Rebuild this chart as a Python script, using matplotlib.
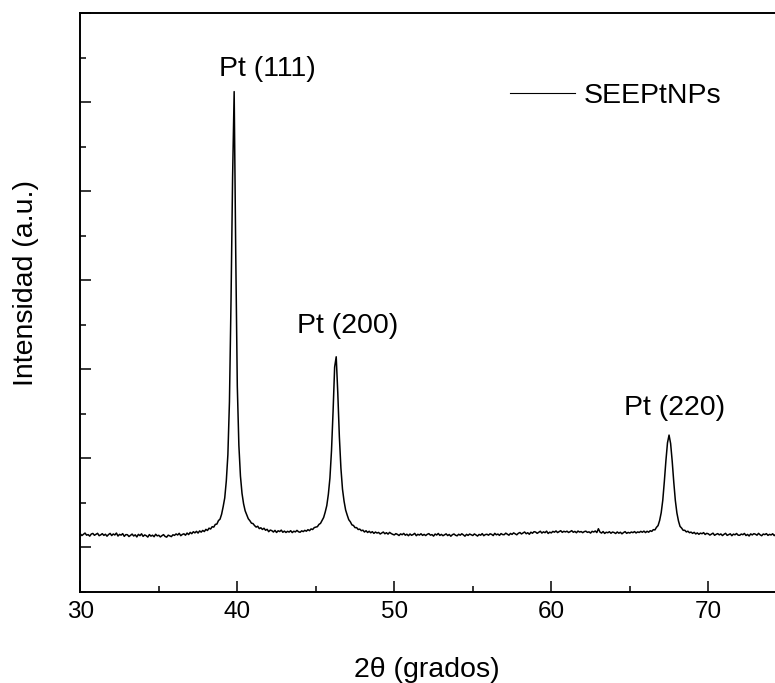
import numpy as np
import matplotlib
matplotlib.use("Agg")
import matplotlib.pyplot as plt
from matplotlib.ticker import MultipleLocator

plt.rcParams["font.family"] = ["Liberation Sans", "DejaVu Sans"]

# XRD scan, 2theta from 30.0 deg in 0.1 deg steps (counts, arbitrary units)
two_theta_start = 30.0
two_theta_step = 0.1
intensity = [
    301, 262, 290, 318, 271, 283, 249, 296, 309, 268,   # 30
    290, 312, 259, 277, 304, 266, 291, 248, 285, 310,   # 31
    262, 297, 275, 318, 251, 288, 272, 305, 244, 283,   # 32
    281, 240, 266, 295, 252, 278, 231, 289, 260, 301,   # 33
    243, 276, 259, 228, 284, 249, 270, 236, 291, 255,   # 34
    268, 231, 259, 283, 242, 226, 271, 255, 238, 279,   # 35
    266, 298, 275, 312, 259, 287, 301, 270, 318, 284,   # 36
    333, 304, 348, 322, 357, 318, 366, 339, 377, 352,   # 37
    401, 376, 428, 409, 461, 452, 513, 520, 598, 631,   # 38
    741, 912, 1108, 1490, 2080, 3270, 5540, 8310, 10240, 6620,  # 39
    3620, 2290, 1600, 1210, 975, 818, 731, 640, 596, 541,  # 40
    531, 486, 452, 471, 418, 437, 399, 426, 381, 402,   # 41
    349, 385, 372, 341, 378, 331, 369, 352, 384, 336,   # 42
    362, 331, 357, 340, 371, 329, 359, 344, 378, 347,   # 43
    336, 368, 351, 379, 360, 394, 372, 411, 398, 440,   # 44
    452, 461, 512, 536, 604, 668, 790, 936, 1190, 1555,  # 45
    2170, 3050, 4050, 4280, 3470, 2490, 1775, 1305, 1034, 836,  # 46
    722, 618, 571, 503, 488, 439, 441, 398, 407, 371,   # 47
    383, 342, 370, 331, 358, 324, 349, 311, 341, 318,   # 48
    332, 297, 318, 341, 302, 326, 294, 333, 308, 289,   # 49
    276, 305, 288, 263, 299, 281, 310, 270, 292, 258,   # 50
    297, 268, 285, 311, 259, 290, 273, 302, 266, 288,   # 51
    262, 290, 305, 271, 283, 250, 296, 274, 309, 265,   # 52
    288, 259, 278, 300, 262, 286, 247, 281, 297, 269,   # 53
    256, 291, 270, 302, 277, 248, 289, 265, 296, 280,   # 54
    263, 298, 276, 251, 287, 270, 305, 259, 284, 291,   # 55
    270, 301, 288, 262, 311, 279, 295, 266, 306, 284,   # 56
    281, 316, 294, 270, 309, 288, 322, 300, 279, 313,   # 57
    330, 298, 319, 342, 303, 325, 291, 337, 314, 349,   # 58
    341, 312, 336, 359, 318, 345, 327, 361, 309, 338,   # 59
    322, 355, 338, 366, 329, 351, 371, 334, 358, 343,   # 60
    360, 331, 349, 372, 336, 355, 325, 363, 340, 352,   # 61
    327, 350, 361, 333, 346, 318, 357, 341, 365, 329,   # 62
    415, 340, 318, 352, 309, 337, 325, 348, 314, 341,   # 63
    330, 308, 343, 315, 336, 301, 329, 350, 312, 333,   # 64
    318, 342, 327, 351, 320, 344, 331, 356, 336, 362,   # 65
    329, 358, 337, 370, 356, 395, 389, 447, 486, 601,   # 66
    775, 1055, 1478, 1945, 2345, 2520, 2330, 1936, 1466, 1052,  # 67
    770, 590, 468, 430, 379, 381, 344, 359, 326, 340,   # 68
    311, 334, 298, 321, 290, 317, 303, 328, 286, 312,   # 69
    301, 272, 295, 316, 268, 289, 305, 277, 298, 262,   # 70
    290, 312, 266, 283, 301, 259, 294, 279, 308, 271,   # 71
    268, 296, 281, 309, 263, 287, 252, 299, 276, 304,   # 72
    292, 270, 311, 279, 258, 296, 283, 305, 266, 289,   # 73
    275, 302, 261, 290, 314, 269, 287, 297, 258, 283,   # 74
    291,                                                # 75
]
series_name = "SEEPtNPs"
peak_names = ["Pt (111)", "Pt (200)", "Pt (220)"]
x_ticks = [30, 40, 50, 60, 70, 80]
x_tick_labels = ["30", "40", "50", "60", "70", ""]

counts = np.array(intensity, dtype=float)
two_theta = two_theta_start + two_theta_step * np.arange(len(counts))

W, H = 775, 683
fig = plt.figure(figsize=(W / 100, H / 100), dpi=100)
# the frame runs past the right edge of the canvas (x axis ends at 80)
ax = fig.add_axes([80.3 / W, 1 - 591.7 / H, 785 / W, 578.4 / H])

ax.plot(two_theta, counts, color="black", lw=1.1, label=series_name)

ax.set_xlim(30, 80)
ax.set_ylim(-1000, 12000)
ax.set_xticks(x_ticks)
ax.set_xticklabels(x_tick_labels)
ax.xaxis.set_minor_locator(MultipleLocator(5))
ax.yaxis.set_major_locator(MultipleLocator(2000))
ax.yaxis.set_minor_locator(MultipleLocator(1000))
ax.tick_params(which="both", direction="in", width=1.1, top=False, right=False)
ax.tick_params(which="major", length=7.9)
ax.tick_params(which="minor", length=4.3)
ax.tick_params(axis="x", labelsize=17.5, pad=7)
ax.tick_params(axis="y", labelleft=False)
for side in ("left", "bottom", "top"):
    ax.spines[side].set_linewidth(1.4)

# peak assignments
label_pos = [(41.92, 10580), (47.05, 4814), (67.88, 2970)]
for name, (lx, ly) in zip(peak_names, label_pos):
    ax.text(lx, ly, name, fontsize=20.5, ha="center", va="baseline")

fig.text(427 / W, 1 - 677 / H, "2θ (grados)", fontsize=20.5,
         ha="center", va="baseline")
fig.text(33 / W, 1 - 282.5 / H, "Intensidad (a.u.)", fontsize=20.5,
         rotation=90, rotation_mode="anchor", ha="center", va="baseline")

leg = ax.legend(loc="center left", bbox_to_anchor=(510 / W, 1 - 96 / H),
                bbox_transform=fig.transFigure, frameon=False, fontsize=20.5,
                handlelength=2.3, handletextpad=0.3, borderpad=0,
                borderaxespad=0)
leg.get_lines()[0].set_linewidth(0.8)

fig.savefig("out.png", dpi=100)
